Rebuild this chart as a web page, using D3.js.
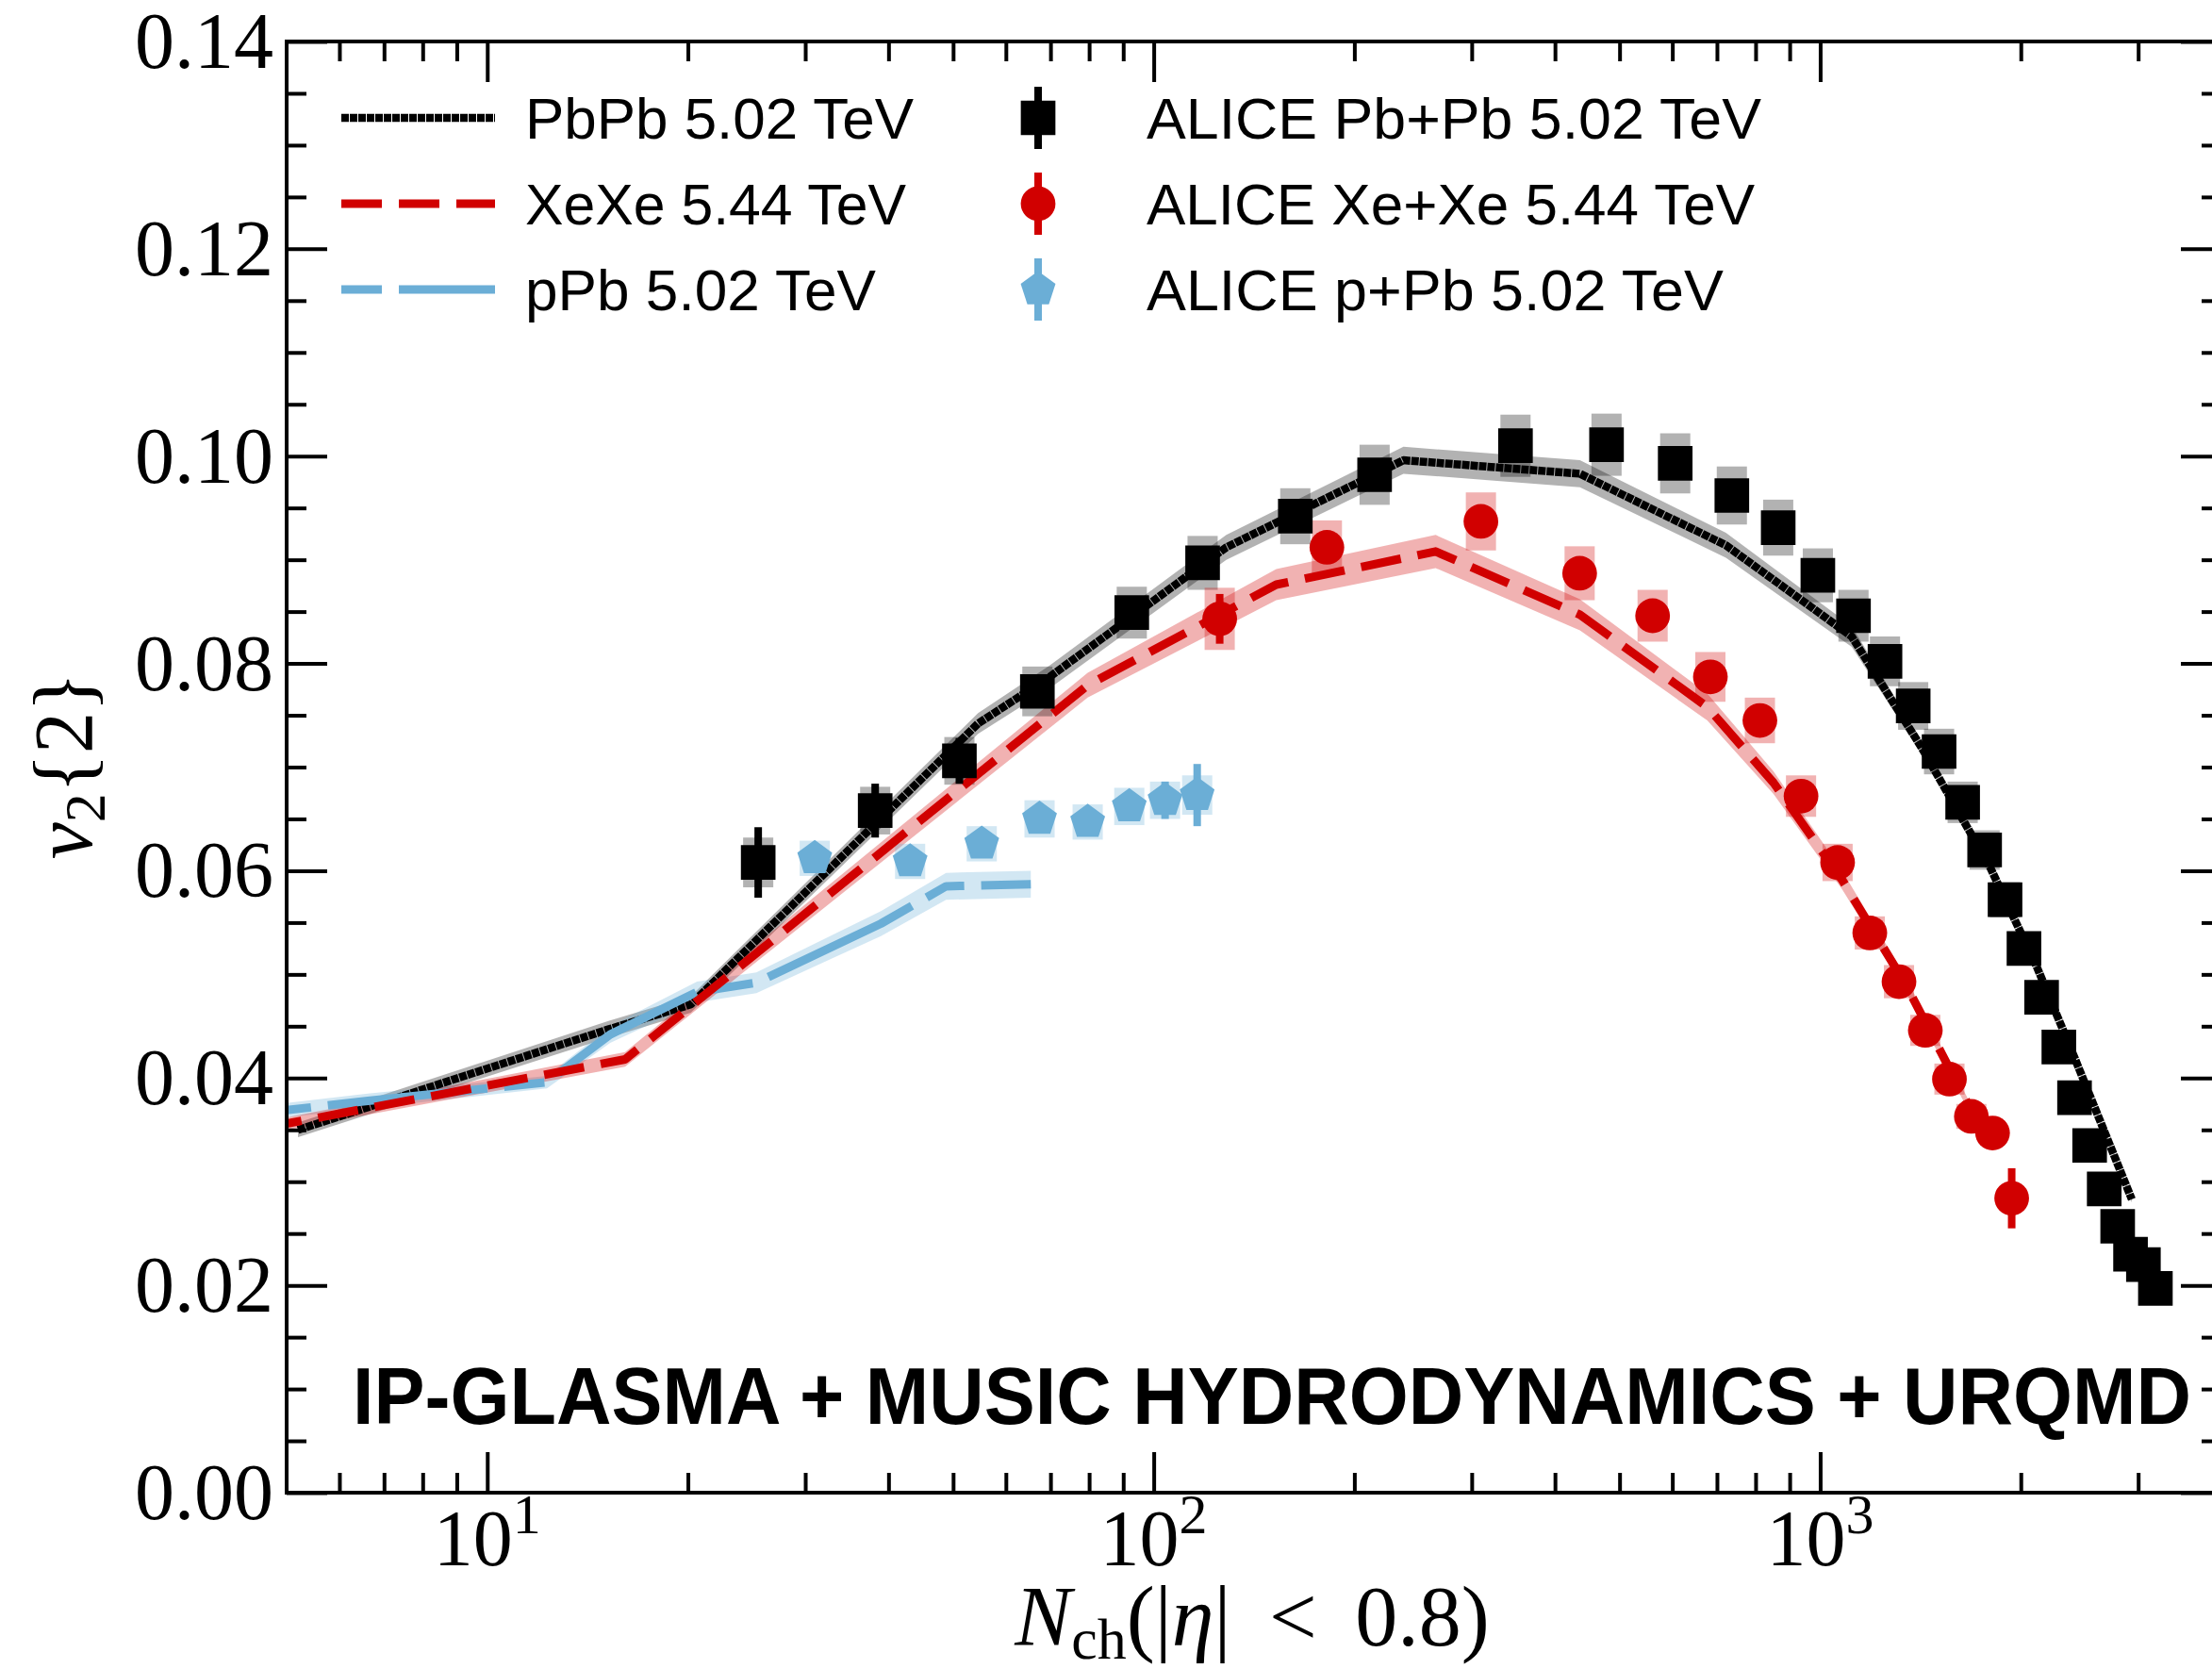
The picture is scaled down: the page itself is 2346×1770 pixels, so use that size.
<!DOCTYPE html>
<html><head><meta charset="utf-8">
<script src="https://cdn.jsdelivr.net/npm/d3@7"></script>
<style>html,body{margin:0;padding:0;background:#fff;} svg{display:block;}</style>
</head><body>
<svg id="chart" width="2346" height="1770"></svg>
<script>
// ---------------- data ----------------
const xMajorTicks = [10, 100, 1000];
const xMajorExp = ["1", "2", "3"];
const xMinorTicks = [6, 7, 8, 9, 20, 30, 40, 50, 60, 70, 80, 90, 200, 300, 400, 500, 600, 700, 800, 900, 2000, 3000];
const yMajorTicks = [0, 0.02, 0.04, 0.06, 0.08, 0.10, 0.12, 0.14];
const yTickLabels = ["0.00", "0.02", "0.04", "0.06", "0.08", "0.10", "0.12", "0.14"];
const yMinorTicks = [0.005, 0.01, 0.015, 0.025, 0.03, 0.035, 0.045, 0.05, 0.055, 0.065, 0.07, 0.075, 0.085, 0.09, 0.095, 0.105, 0.11, 0.115, 0.125, 0.13, 0.135];

// theory curves (IP-Glasma + MUSIC + UrQMD)
const pbpbTheoryN = [5.2, 15.2, 20.2, 54.5, 69.8, 128.5, 237, 436, 722, 1115, 1419, 1800, 2118, 2414, 2935];
const pbpbTheoryV = [0.0350, 0.0447, 0.0471, 0.0742, 0.0787, 0.0912, 0.0996, 0.0983, 0.0914, 0.0826, 0.0719, 0.0603, 0.0506, 0.0418, 0.0283];
const pbpbTheoryErr = [0.0007, 0.0008, 0.0008, 0.0010, 0.0011, 0.0012, 0.0013, 0.0013, 0.0012, 0.0010, 0.0006, 0.0004, 0.0003, 0.0003, 0.0003];

const xexeTheoryN = [5, 16.1, 79.6, 152.7, 264.8, 436, 677, 851, 1079, 1342, 1697];
const xexeTheoryV = [0.0356, 0.0418, 0.0779, 0.0876, 0.0908, 0.0847, 0.0758, 0.0685, 0.0591, 0.0491, 0.0365];
const xexeTheoryErr = [0.0006, 0.0007, 0.0012, 0.0015, 0.0016, 0.0015, 0.0013, 0.0011, 0.0009, 0.0007, 0.0005];

const ppbTheoryN = [5, 6.62, 12.29, 15.29, 20.64, 25.34, 38.97, 48.8, 65.4];
const ppbTheoryV = [0.0369, 0.0378, 0.0396, 0.0442, 0.0483, 0.0492, 0.0549, 0.0585, 0.0587];
const ppbTheoryErr = [0.0007, 0.0007, 0.0006, 0.0008, 0.0010, 0.0010, 0.0012, 0.0013, 0.0013];

// ALICE data
const pbpbDataN = [25.5, 38.2, 51.1, 66.9, 92.7, 118.4, 163.1, 214.5, 349, 478, 606, 737, 865, 992, 1122, 1251, 1379, 1508, 1636, 1765, 1894, 2022, 2149, 2281, 2408, 2537, 2668, 2795, 2922, 3055, 3184];
const pbpbDataV = [0.0608, 0.0658, 0.0706, 0.0773, 0.0849, 0.0897, 0.0942, 0.0982, 0.1010, 0.1011, 0.0993, 0.0962, 0.0931, 0.0885, 0.0846, 0.0802, 0.0759, 0.0715, 0.0666, 0.0620, 0.0572, 0.0525, 0.0478, 0.0430, 0.0381, 0.0335, 0.0293, 0.0257, 0.0230, 0.0220, 0.0197];
const pbpbStat = [0.0034, 0.0026, 0.0022, 0.0012, 0.0010, 0.0010, 0.0008, 0.0008, 0.0008, 0.0008, 0.0008, 0.0008, 0.0008, 0.0008, 0.0008, 0.0008, 0.0008, 0.0008, 0.0008, 0.0008, 0.0008, 0.0008, 0.0008, 0.0008, 0.0008, 0.0008, 0.0008, 0.0008, 0.0008, 0.0008, 0.0008];
const pbpbSys = [0.0024, 0.0023, 0.0023, 0.0024, 0.0025, 0.0026, 0.0027, 0.0029, 0.0030, 0.0030, 0.0029, 0.0028, 0.0027, 0.0026, 0.0025, 0.0024, 0.0023, 0.0022, 0.0020, 0.0019, 0.0017, 0.0016, 0.0015, 0.0014, 0.0013, 0.0012, 0.0011, 0.0010, 0.0010, 0.0010, 0.0010];

const xexeDataN = [125.6, 181.9, 309.7, 435.6, 560.5, 684.3, 812, 936, 1062, 1187, 1313, 1438, 1563, 1686, 1814, 1938];
const xexeDataV = [0.0843, 0.0912, 0.0937, 0.0887, 0.0846, 0.0787, 0.0745, 0.0672, 0.0608, 0.0540, 0.0493, 0.0446, 0.0399, 0.0363, 0.0347, 0.0284];
const xexeStat = [0.0024, 0.0010, 0.0010, 0.0010, 0.0010, 0.0010, 0.0010, 0.0010, 0.0010, 0.0010, 0.0010, 0.0010, 0.0010, 0.0010, 0.0010, 0.0029];
const xexeSys = [0.0030, 0.0026, 0.0028, 0.0026, 0.0025, 0.0024, 0.0022, 0.0020, 0.0018, 0.0016, 0.0016, 0.0015, 0.0015, 0.0012, 0.0008, 0.0008];

const ppbDataN = [31.0, 43.1, 55.2, 67.4, 79.6, 91.9, 104.0, 116.2];
const ppbDataV = [0.0612, 0.0609, 0.0626, 0.0650, 0.0647, 0.0662, 0.0668, 0.0673];
const ppbStat = [0.0010, 0.0010, 0.0010, 0.0010, 0.0010, 0.0012, 0.0018, 0.0030];
const ppbSys = [0.0017, 0.0017, 0.0017, 0.0018, 0.0017, 0.0018, 0.0018, 0.0019];

const theoryLabels = ["PbPb 5.02 TeV", "XeXe 5.44 TeV", "pPb 5.02 TeV"];
const dataLabels = ["ALICE Pb+Pb 5.02 TeV", "ALICE Xe+Xe 5.44 TeV", "ALICE p+Pb 5.02 TeV"];
const bannerText = "IP-GLASMA + MUSIC HYDRODYNAMICS + URQMD";

// ---------------- styles ----------------
const BLACK = "#000000", RED = "#d10000", BLUE = "#6baed6";
const SERIF = "'Liberation Serif', 'Times New Roman', serif";
const SANS = "'Liberation Sans', Arial, sans-serif";

const svg = d3.select("#chart");
const L = 304, T = 44, R = 2356, B = 1583;
const x = d3.scaleLog().domain([5, 4000]).range([L, R]);
const y = d3.scaleLinear().domain([0, 0.14]).range([B, T]);

svg.append("rect").attr("width", 2346).attr("height", 1770).attr("fill", "#fff");
svg.append("defs").append("clipPath").attr("id", "clip")
  .append("rect").attr("x", L).attr("y", T).attr("width", R - L).attr("height", B - T);

const plot = svg.append("g").attr("clip-path", "url(#clip)");

const symbolPentagon = {
  draw(ctx, size) {
    const r = Math.sqrt(size);
    for (let i = 0; i < 5; i++) {
      const a = -Math.PI / 2 + i * 2 * Math.PI / 5;
      const px = r * Math.cos(a), py = r * Math.sin(a);
      if (i === 0) ctx.moveTo(px, py); else ctx.lineTo(px, py);
    }
    ctx.closePath();
  }
};
const SQ = 36.7, CR = 18.4, PR = 19.4;
const markerSym = {
  square: d3.symbol(d3.symbolSquare, SQ * SQ),
  circle: d3.symbol(d3.symbolCircle, Math.PI * CR * CR),
  pentagon: d3.symbol(symbolPentagon, PR * PR)
};

// ---------------- theory bands and lines ----------------
const theory = [
  {N: pbpbTheoryN, V: pbpbTheoryV, E: pbpbTheoryErr, color: BLACK, width: 8.5, dash: "8,1", offset: 0},
  {N: ppbTheoryN, V: ppbTheoryV, E: ppbTheoryErr, color: BLUE, width: 9, dash: "43,18,170,18", offset: 17},
  {N: xexeTheoryN, V: xexeTheoryV, E: xexeTheoryErr, color: RED, width: 9, dash: "43,18", offset: 27}
];
theory.forEach(t => {
  const pts = t.N.map((n, i) => ({n, v: t.V[i], e: t.E[i]}));
  plot.append("path").datum(pts)
    .attr("d", d3.area().x(d => x(d.n)).y0(d => y(d.v - d.e)).y1(d => y(d.v + d.e)))
    .attr("fill", t.color).attr("fill-opacity", 0.3);
});
// data systematic boxes
const datasets = [
  {N: pbpbDataN, V: pbpbDataV, S: pbpbStat, Y: pbpbSys, color: BLACK, sym: "square"},
  {N: xexeDataN, V: xexeDataV, S: xexeStat, Y: xexeSys, color: RED, sym: "circle"},
  {N: ppbDataN, V: ppbDataV, S: ppbStat, Y: ppbSys, color: BLUE, sym: "pentagon"}
];
datasets.forEach(ds => {
  const pts = ds.N.map((n, i) => ({n, v: ds.V[i], s: ds.S[i], sy: ds.Y[i]}));
  plot.append("g").selectAll("rect").data(pts).join("rect")
    .attr("x", d => x(d.n) - 16).attr("width", 32)
    .attr("y", d => y(d.v + d.sy)).attr("height", d => y(d.v - d.sy) - y(d.v + d.sy))
    .attr("fill", ds.color).attr("fill-opacity", 0.3);
});
theory.forEach(t => {
  const pts = t.N.map((n, i) => ({n, v: t.V[i]}));
  plot.append("path").datum(pts)
    .attr("d", d3.line().x(d => x(d.n)).y(d => y(d.v)))
    .attr("fill", "none").attr("stroke", t.color).attr("stroke-width", t.width)
    .attr("stroke-dasharray", t.dash).attr("stroke-dashoffset", t.offset)
    .attr("stroke-linejoin", "round");
});
// data markers with stat error bars
datasets.forEach(ds => {
  const pts = ds.N.map((n, i) => ({n, v: ds.V[i], s: ds.S[i]}));
  const g = plot.append("g");
  pts.forEach(d => {
    g.append("line").attr("x1", x(d.n)).attr("x2", x(d.n))
      .attr("y1", y(d.v + d.s)).attr("y2", y(d.v - d.s))
      .attr("stroke", ds.color).attr("stroke-width", 8);
    g.append("path").attr("d", markerSym[ds.sym]())
      .attr("transform", `translate(${x(d.n)},${y(d.v)})`).attr("fill", ds.color);
  });
});

// ---------------- axes ----------------
const tickStyle = g => {
  g.select(".domain").remove();
  g.selectAll(".tick line").attr("stroke", "#000").attr("stroke-width", 4);
  g.selectAll(".tick text").remove();
};
svg.append("g").attr("transform", `translate(0,${B})`)
  .call(d3.axisBottom(x).tickValues(xMajorTicks).tickSize(-43).tickFormat("")).call(tickStyle);
svg.append("g").attr("transform", `translate(0,${B})`)
  .call(d3.axisBottom(x).tickValues(xMinorTicks).tickSize(-21).tickFormat("")).call(tickStyle);
svg.append("g").attr("transform", `translate(0,${T})`)
  .call(d3.axisTop(x).tickValues(xMajorTicks).tickSize(-43).tickFormat("")).call(tickStyle);
svg.append("g").attr("transform", `translate(0,${T})`)
  .call(d3.axisTop(x).tickValues(xMinorTicks).tickSize(-21).tickFormat("")).call(tickStyle);
svg.append("g").attr("transform", `translate(${L},0)`)
  .call(d3.axisLeft(y).tickValues(yMajorTicks).tickSize(-43).tickFormat("")).call(tickStyle);
svg.append("g").attr("transform", `translate(${L},0)`)
  .call(d3.axisLeft(y).tickValues(yMinorTicks).tickSize(-21).tickFormat("")).call(tickStyle);
svg.append("g").attr("transform", `translate(${R},0)`)
  .call(d3.axisRight(y).tickValues(yMajorTicks).tickSize(-43).tickFormat("")).call(tickStyle);
svg.append("g").attr("transform", `translate(${R},0)`)
  .call(d3.axisRight(y).tickValues(yMinorTicks).tickSize(-21).tickFormat("")).call(tickStyle);
svg.append("rect").attr("x", L).attr("y", T).attr("width", R - L).attr("height", B - T)
  .attr("fill", "none").attr("stroke", "#000").attr("stroke-width", 4);

// tick labels
svg.append("g").selectAll("text").data(yMajorTicks).join("text")
  .attr("x", 290).attr("y", d => y(d) + 28).attr("text-anchor", "end")
  .style("font-family", SERIF).style("font-size", "84px").text((d, i) => yTickLabels[i]);
xMajorTicks.forEach((t, i) => {
  const tx = svg.append("text").attr("x", x(t)).attr("y", 1660).attr("text-anchor", "middle")
    .style("font-family", SERIF).style("font-size", "84px");
  tx.append("tspan").text("10");
  tx.append("tspan").attr("dy", -34).style("font-size", "60px").text(xMajorExp[i]);
});

// axis labels
const xl = svg.append("text").attr("x", (L + R) / 2 - 2).attr("y", 1745).attr("text-anchor", "middle")
  .style("font-family", SERIF).style("font-size", "90px");
xl.append("tspan").style("font-style", "italic").text("N");
xl.append("tspan").attr("dy", 14).style("font-size", "62px").text("ch");
xl.append("tspan").attr("dy", -14).text("(|");
xl.append("tspan").style("font-style", "italic").text("η");
xl.append("tspan").text("|\u2009 < \u20090.8)");

const yl = svg.append("text").attr("transform", "translate(97,812) rotate(-90)").attr("text-anchor", "middle")
  .style("font-family", SERIF).style("font-size", "88px");
yl.append("tspan").style("font-style", "italic").text("v");
yl.append("tspan").attr("dy", 14).style("font-size", "62px").text("2");
yl.append("tspan").attr("dy", -14).text("{2}");

// ---------------- legend ----------------
const rowY = [125, 216, 307];
const legTheoryLen = [412, 404, 372];
const legDataLen = [652, 645, 612];
const legTheory = [theory[0], theory[2], theory[1]];
legTheory.forEach((t, i) => {
  svg.append("line").attr("x1", 362).attr("x2", 525).attr("y1", rowY[i]).attr("y2", rowY[i])
    .attr("stroke", t.color).attr("stroke-width", t.width).attr("stroke-dasharray", t.dash);
  svg.append("text").attr("x", 557).attr("y", rowY[i] + 22)
    .attr("textLength", legTheoryLen[i]).attr("lengthAdjust", "spacingAndGlyphs")
    .style("font-family", SANS).style("font-size", "62px").text(theoryLabels[i]);
});
datasets.forEach((ds, i) => {
  const cx = 1101, cy = rowY[i];
  svg.append("line").attr("x1", cx).attr("x2", cx).attr("y1", cy - 33).attr("y2", cy + 33)
    .attr("stroke", ds.color).attr("stroke-width", 8);
  svg.append("path").attr("d", markerSym[ds.sym]()).attr("transform", `translate(${cx},${cy})`).attr("fill", ds.color);
  svg.append("text").attr("x", 1216).attr("y", cy + 22)
    .attr("textLength", legDataLen[i]).attr("lengthAdjust", "spacingAndGlyphs")
    .style("font-family", SANS).style("font-size", "62px").text(dataLabels[i]);
});

// banner
svg.append("text").attr("x", 374).attr("y", 1510)
  .attr("textLength", 1950).attr("lengthAdjust", "spacingAndGlyphs")
  .style("font-family", SANS).style("font-weight", "bold").style("font-size", "86px")
  .text(bannerText);
</script>
</body></html>
